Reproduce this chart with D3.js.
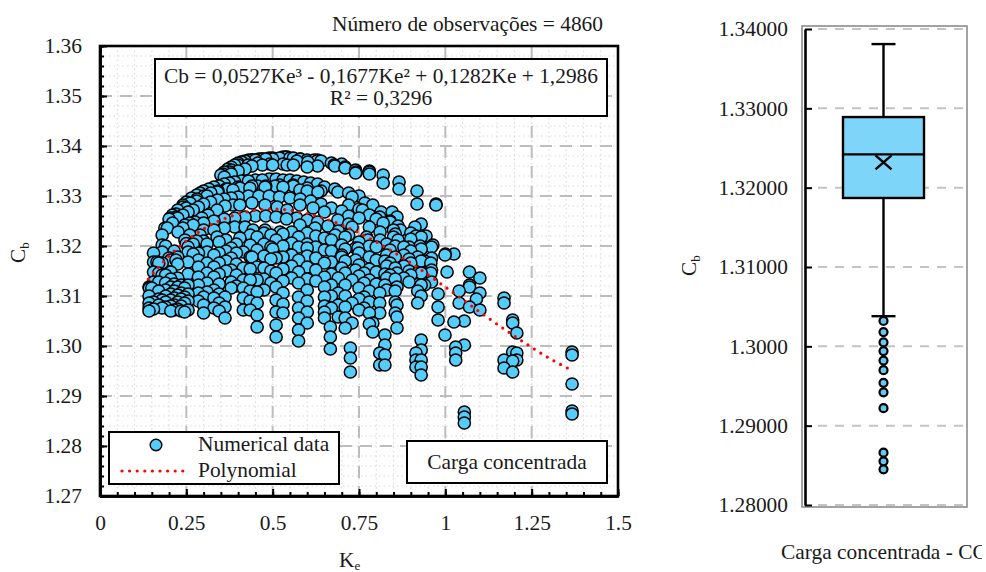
<!DOCTYPE html>
<html><head><meta charset="utf-8">
<style>html,body{margin:0;padding:0;background:#fff;overflow:hidden}svg{display:block}text{font-family:"Liberation Serif",serif;fill:#1a1a1a}</style>
<script src="https://cdn.jsdelivr.net/npm/d3@7"></script></head><body><svg id="c" width="986" height="572"></svg>
<script>
// ---- scatter data: vertical columns
const columnKe=[.142,.155,.18,.19,.205,.215,.235,.245,.285,.3,.33,.362,.38,.415,.455,.51,.575,.65,.667,.69,.725,.73,.765,.79,.81,.825,.86,.915,.93,.92,.958,.979,.964,.999,1.005,1.025,1.03,1.04,1.055,1.07,1.1,1.17,1.195,1.207,1.367,.7,.74,.8,.84,.88,.9,.94];
const columnCb=[
[1.3118,1.31,1.3086,1.3076,1.307],
[1.3186,1.3168,1.3148,1.3128,1.3088,1.3074],
[1.3202,1.3188,1.3166,1.3142,1.3092,1.3076],
[1.32,1.3142,1.3126,1.3112,1.31,1.3088,1.3078],
[1.3172,1.3148,1.3134,1.3118,1.3104,1.3092,1.308,1.307],
[1.319,1.3124,1.311,1.3096,1.3082,1.3072],
[1.3122,1.3106,1.3094,1.308,1.307],
[1.3116,1.3098,1.3086,1.3068],
[1.3186,1.3172,1.3158,1.3138,1.3122,1.3106,1.309],
[1.3098,1.3082,1.3066],
[1.3182,1.3158,1.3138,1.3112,1.3096,1.3076],
[1.3098,1.3078,1.3056],
[1.3196,1.3176,1.3152,1.3128,1.3116],
[1.3188,1.3156,1.3132,1.3116,1.3096,1.3072],
[1.3218,1.3192,1.3158,1.3132,1.3108,1.3086,1.3062,1.3038],
[1.3212,1.3176,1.3146,1.3118,1.3092,1.3068,1.3042,1.3018],
[1.3218,1.3198,1.3172,1.3148,1.3126,1.3098,1.3076,1.3056,1.3032,1.301],
[1.3216,1.3192,1.3166,1.3138,1.3118,1.3098,1.308,1.3068,1.3056],
[1.3038,1.3018,1.2994],
[1.3136,1.3106,1.3082,1.3058],
[1.2996,1.2976,1.2948],
[1.3132,1.3086,1.3046],
[1.3146,1.3126,1.3098,1.3076],
[1.3046,1.3028],
[1.3106,1.3086,1.3066,1.2986,1.2962],
[1.317,1.3144,1.3122,1.3022,1.3002,1.2982,1.2962],
[1.3146,1.3118,1.3082,1.3058,1.3036],
[1.2986,1.2972,1.2958],
[1.3012,1.2992,1.2972,1.2958,1.2942],
[1.3178,1.3146,1.311,1.3086],
[1.3166,1.3146],
[1.3104,1.3078,1.3052],
[1.3202],
[1.3182,1.3022],
[1.3148],
[1.3184,1.3048],
[1.2998,1.2986,1.2972],
[1.311,1.3086],
[1.3002,1.3050,1.2868,1.2858,1.2846],
[1.3148,1.3118,1.3078],
[1.3136,1.3106,1.3072],
[1.3096,1.3086,1.2972,1.2956],
[1.3052,1.3046,1.2988,1.297,1.2948],
[1.3026,1.2986,1.2972],
[1.2988,1.2982,1.2924,1.287,1.2864],
[1.3202,1.3178,1.3156],
[1.3196,1.3172,1.3152],
[1.3198,1.3172,1.3148,1.3124],
[1.3192,1.3166,1.3142],
[1.316,1.3136],
[1.3214,1.319,1.3166,1.3142],
[1.317,1.3122]
];
const extraKe=[.17,.225,.255,.27,.31,.345,.365,.395,.435,.475,.495,.53,.555,.6,.625,.67,.71,.75,.78,.83,.855,.895,.93,.96];
const extraCb=[
[1.3166,1.3146,1.3128,1.311,1.3094,1.3082],
[1.3178,1.3164,1.3136,1.3118,1.3102,1.3088,1.3074],
[1.3188,1.3168,1.3144,1.3122,1.3104,1.309,1.3072],
[1.3204,1.3184],
[1.3204,1.3188,1.3166,1.3146,1.3126,1.3108],
[1.3208,1.3186,1.3166,1.3144,1.3124,1.3104,1.3086,1.307],
[1.3212,1.319,1.317,1.315],
[1.3204,1.3186,1.3164,1.3142,1.312],
[1.3222,1.3202,1.3178,1.3154,1.3132,1.311,1.309,1.3072],
[1.3226,1.3204,1.318,1.3156,1.3134,1.3112],
[1.3222,1.3198,1.3174,1.315,1.3126],
[1.3224,1.32,1.3178,1.3154,1.313,1.3106,1.3084,1.3066],
[1.3228,1.3206,1.3182,1.316,1.3136],
[1.3226,1.3204,1.318,1.3158,1.3134,1.3112,1.309,1.3068,1.3046],
[1.322,1.3198,1.3176,1.3152,1.313],
[1.3212,1.319,1.3168,1.3144,1.3122,1.31,1.3076],
[1.3218,1.3194,1.317,1.3146,1.3122,1.31,1.3078,1.3056,1.3036],
[1.3208,1.3186,1.3162,1.314,1.3116,1.3094,1.3072],
[1.32,1.3178,1.3154,1.3132,1.311,1.3088,1.3066,1.3044],
[1.3204,1.3182,1.316,1.3136,1.3112],
[1.3224,1.32,1.3178,1.3156,1.3134,1.311,1.3088,1.3066],
[1.3198,1.3174,1.315,1.3128],
[1.3218,1.3194,1.317,1.3146,1.3122,1.31],
[1.3198,1.3176,1.3152,1.3128]
];
// ---- scatter data: upper arcs
const arcLowKe=[.246,.29,.339,.405,.443,.478,.521,.579,.623,.681,.747,.776,.811,.863,.915,.944,.927,.88,.88];
const arcLowCb=[1.3212,1.3222,1.3218,1.3216,1.3232,1.3232,1.3228,1.3242,1.3236,1.3222,1.3196,1.3212,1.3212,1.3212,1.322,1.322,1.32,1.3182,1.3198];
const arcMidKe=[.226,.246,.26,.275,.295,.313,.339,.362,.385,.405,.44,.478,.513,.542,.579,.617,.65,.689,.73,.772,.811,.863,.912];
const arcMidCb=[1.3228,1.3242,1.3246,1.3248,1.3256,1.3262,1.3272,1.328,1.3282,1.3282,1.3286,1.3282,1.3278,1.3272,1.3282,1.3276,1.3268,1.3252,1.3238,1.3218,1.3228,1.324,1.3238];
const arcHighKe=[.188,.203,.22,.24,.261,.281,.301,.321,.342,.365,.385,.405,.434,.457,.478,.507,.53,.559,.579,.6,.631,.689,.73,.767,.814,.846];
const arcHighCb=[1.3236,1.3256,1.3264,1.3278,1.3286,1.3294,1.33,1.3306,1.331,1.3314,1.3312,1.3316,1.3316,1.332,1.3318,1.332,1.3318,1.3322,1.3312,1.331,1.3308,1.3308,1.3298,1.3286,1.3268,1.3268];
const arcTopKe=[.356,.38,.376,.41,.4,.44,.429,.47,.457,.5,.492,.54,.542,.58,.57,.63,.602,.628,.678,.71,.742,.78,.82,.82,.866,.866,.918,.918,.973,.973];
const arcTopCb=[1.3344,1.3352,1.3348,1.3368,1.3362,1.3372,1.3362,1.3374,1.3366,1.3374,1.3364,1.3378,1.3362,1.3374,1.337,1.3372,1.3368,1.337,1.3362,1.3356,1.3348,1.3348,1.3342,1.3326,1.3328,1.3314,1.331,1.3284,1.3284,1.3282];
const band1Ke=[.35,.36,.37,.38,.39,.40,.41,.42,.43,.44,.45,.46,.47,.48,.49,.50,.52,.53,.54,.55,.56,.58,.6,.62,.64,.36,.38,.40,.42,.44,.47,.5,.53,.56,.6,.63,.67,.68,.7,.71,.74,.74,.78,.78];
const band1Cb=[1.3342,1.3348,1.3354,1.3358,1.3362,1.3366,1.3368,1.337,1.3372,1.3372,1.3372,1.3374,1.3374,1.3374,1.3376,1.3376,1.3376,1.3378,1.3378,1.3376,1.3376,1.3374,1.3372,1.3372,1.337,1.3338,1.3344,1.335,1.3354,1.336,1.3362,1.3362,1.3364,1.3362,1.3358,1.336,1.3366,1.336,1.3364,1.3358,1.3352,1.3346,1.335,1.3344];
const band2Ke=[.20,.21,.225,.24,.25,.265,.28,.29,.3,.315,.33,.345,.36,.375,.39,.41,.43,.45,.47,.49,.51,.53,.55,.57,.59,.61,.63,.65,.68,.22,.25,.28,.31,.34,.37,.4,.44,.48,.52,.56,.6,.64];
const band2Cb=[1.3254,1.3262,1.3272,1.3282,1.3288,1.3296,1.3302,1.3306,1.331,1.3314,1.3318,1.332,1.3324,1.3326,1.3328,1.333,1.333,1.3332,1.3332,1.3334,1.3334,1.3332,1.3332,1.333,1.3328,1.3326,1.3324,1.3318,1.3314,1.3258,1.3276,1.329,1.33,1.3308,1.3314,1.3318,1.332,1.332,1.3322,1.332,1.3316,1.331];
const band3Ke=[.18,.195,.21,.225,.24,.255,.27,.285,.3,.32,.34,.36,.38,.4,.43,.46,.49,.52,.55,.58,.61,.64,.67,.7,.72,.76,.8,.84,.87,.9];
const band3Cb=[1.3222,1.3236,1.3246,1.3256,1.3262,1.3268,1.3272,1.3278,1.3284,1.3288,1.3292,1.3294,1.3296,1.3298,1.33,1.33,1.33,1.3298,1.3296,1.3294,1.329,1.3284,1.3276,1.327,1.3282,1.3272,1.3254,1.325,1.3232,1.3226];
const band4Ke=[.24,.27,.3,.33,.36,.39,.42,.45,.48,.51,.54,.57,.6,.63,.66,.69,.72,.26,.3,.33,.36,.39,.42,.25,.28,.72,.72,.75,.75,.78,.78,.82,.85,.72,.75,.79,.81,.84,.86];
const band4Cb=[1.3236,1.3242,1.3246,1.325,1.3254,1.3256,1.3258,1.326,1.326,1.3258,1.3254,1.3256,1.3252,1.3248,1.324,1.323,1.3222,1.3222,1.3232,1.3232,1.3236,1.3238,1.3238,1.3205,1.321,1.326,1.3244,1.3274,1.3256,1.3262,1.3238,1.3246,1.3232,1.3306,1.33,1.3282,1.3258,1.3248,1.3258];
const edgeKe=[.143,.15,.165,.2,.22,.255,.3,.44,.5,.6,.7,.85,.93,1.0,1.07,1.09];
const edgeCb=[1.3116,1.3116,1.3168,1.3176,1.3172,1.3198,1.321,1.3178,1.3194,1.3196,1.3182,1.3218,1.3244,1.3184,1.3122,1.3094];
// ---- polynomial
const polyKe=[.14,.2,.3,.4,.5,.6,.7,.8,.9,1,1.1,1.2,1.3,1.367];
const polyCb=[1.3134,1.318,1.3234,1.3264,1.3274,1.3265,1.3242,1.3208,1.3166,1.3118,1.3068,1.302,1.2976,1.2951];
// ---- ticks
const xTicks=[0,.25,.5,.75,1,1.25,1.5];
const xTickLabels=["0","0.25","0.5","0.75","1","1.25","1.5"];
const yTicks=[1.27,1.28,1.29,1.30,1.31,1.32,1.33,1.34,1.35,1.36];
const yTickLabels=["1.27","1.28","1.29","1.30","1.31","1.32","1.33","1.34","1.35","1.36"];
// ---- box plot
const boxTicks=[1.28,1.29,1.30,1.31,1.32,1.33,1.34];
const boxTickLabels=["1.28000","1.29000","1.3000","1.31000","1.32000","1.33000","1.34000"];
const boxWhiskerHigh=1.3381,boxQ3=1.3289,boxMedian=1.3242,boxMean=1.3232,boxQ1=1.3187,boxWhiskerLow=1.3038;
const boxOutliers=[1.3032,1.3018,1.3005,1.2994,1.2982,1.297,1.2954,1.2942,1.2922,1.2866,1.2855,1.2845];

const svg=d3.select("#c");
const x=d3.scaleLinear().domain([0,1.5]).range([100,618]);
const y=d3.scaleLinear().domain([1.27,1.36]).range([496,46]);
const FS=21.4,FILL="#55cdfb";
const g=svg.append("g");
// minor grid
const xMinor=d3.range(0,1.5001,.05),yMinor=d3.range(1.27,1.3601,.002);
g.append("g").selectAll("line").data(xMinor).join("line").attr("x1",d=>x(d)).attr("x2",d=>x(d)).attr("y1",46).attr("y2",496).attr("stroke","#dcdcdc").attr("stroke-width",1.2).attr("stroke-dasharray","1.5 3");
g.append("g").selectAll("line").data(yMinor).join("line").attr("y1",d=>y(d)).attr("y2",d=>y(d)).attr("x1",100).attr("x2",618).attr("stroke","#dcdcdc").attr("stroke-width",1.2).attr("stroke-dasharray","1.5 3");
// major grid
g.append("g").selectAll("line").data(xTicks.slice(1,-1)).join("line").attr("x1",d=>x(d)).attr("x2",d=>x(d)).attr("y1",46).attr("y2",496).attr("stroke","#bdbdbd").attr("stroke-width",2).attr("stroke-dasharray","12 8");
g.append("g").selectAll("line").data(yTicks.slice(1,-1)).join("line").attr("y1",d=>y(d)).attr("y2",d=>y(d)).attr("x1",100).attr("x2",618).attr("stroke","#bdbdbd").attr("stroke-width",2).attr("stroke-dasharray","12 8");
// points: lower values are painted last, as in the reference stacks
const pts=[];
columnKe.forEach((k,i)=>columnCb[i].forEach(c=>pts.push([k,c])));
extraKe.forEach((k,i)=>extraCb[i].forEach(c=>pts.push([k,c])));
edgeKe.forEach((k,i)=>pts.push([k,edgeCb[i]]));
[[arcLowKe,arcLowCb],[arcMidKe,arcMidCb],[arcHighKe,arcHighCb],[arcTopKe,arcTopCb],[band1Ke,band1Cb],[band2Ke,band2Cb],[band3Ke,band3Cb],[band4Ke,band4Cb]].forEach(([a,b])=>a.forEach((k,i)=>pts.push([k,b[i]])));
pts.sort((a,b)=>b[1]-a[1]);
g.append("g").selectAll("circle").data(pts).join("circle").attr("cx",d=>x(d[0])).attr("cy",d=>y(d[1])).attr("r",6.1).attr("fill",FILL).attr("stroke","#000").attr("stroke-width",1.5);
// polynomial
const line=d3.line().x((d,i)=>x(polyKe[i])).y((d,i)=>y(polyCb[i])).curve(d3.curveMonotoneX);
const dotted=s=>s.attr("fill","none").attr("stroke","#f00").attr("stroke-width",3.2).attr("stroke-linecap","round").attr("stroke-dasharray","0 7.6");
g.append("path").attr("d",line(polyKe)).call(dotted);
// axes
const ax=d3.axisBottom(x).tickValues(xTicks).tickFormat((d,i)=>xTickLabels[i]).tickSizeInner(-7).tickSizeOuter(0).tickPadding(19);
const ay=d3.axisLeft(y).tickValues(yTicks).tickFormat((d,i)=>yTickLabels[i]).tickSizeInner(-7).tickSizeOuter(0).tickPadding(18);
const ax2=d3.axisBottom(x).tickValues(xMinor).tickFormat("").tickSizeInner(-4).tickSizeOuter(0);
const ay2=d3.axisLeft(y).tickValues(yMinor).tickFormat("").tickSizeInner(-4).tickSizeOuter(0);
function sty(s){s.selectAll("path").attr("stroke","#000").attr("stroke-width",2.6);s.selectAll("line").attr("stroke","#000").attr("stroke-width",2);s.selectAll("text").attr("font-size",FS).attr("font-family",'"Liberation Serif"').attr("fill","#1a1a1a");}
g.append("g").attr("transform","translate(0,496)").call(ax2).call(sty);
g.append("g").attr("transform","translate(100,0)").call(ay2).call(sty);
g.append("g").attr("transform","translate(0,496)").call(ax).call(sty);
g.append("g").attr("transform","translate(100,0)").call(ay).call(sty);
g.append("rect").attr("x",100).attr("y",46).attr("width",518).attr("height",450).attr("fill","none").attr("stroke","#000").attr("stroke-width",2.6);
// boxes and labels
const bx=(a,b,w,h)=>g.append("rect").attr("x",a).attr("y",b).attr("width",w).attr("height",h).attr("fill","#fff").attr("stroke","#000").attr("stroke-width",2);
const T=(par,a,b,t,o={})=>par.append("text").attr("x",a).attr("y",b).attr("font-size",o.fs||FS).attr("text-anchor",o.anchor||"start").text(t);
T(svg,603,31,"Número de observações = 4860",{anchor:"end"});
bx(155,59,452,57);
const eq=g.append("text").attr("x",381).attr("y",83).attr("text-anchor","middle").attr("font-size",FS);
eq.text("Cb = 0,0527Ke³ - 0,1677Ke² + 0,1282Ke + 1,2986");
T(g,381,105,"R² = 0,3296",{anchor:"middle"});
bx(109,432,230,52);
g.append("circle").attr("cx",156).attr("cy",445).attr("r",5.8).attr("fill",FILL).attr("stroke","#000").attr("stroke-width",1.4);
T(g,198,451,"Numerical data");
T(g,198,477,"Polynomial");
g.append("line").attr("x1",122).attr("x2",190).attr("y1",471).attr("y2",471).call(dotted);
bx(407,441,200,42);
T(g,507,469,"Carga concentrada",{anchor:"middle"});
const xl=T(svg,339,567,"K");xl.append("tspan").attr("font-size",13).attr("dy",3).text("e");
const yl=svg.append("text").attr("transform","translate(25,263) rotate(-90)").attr("font-size",FS).text("C");yl.append("tspan").attr("font-size",13).attr("dy",4).text("b");
// ---- box plot panel
const yb=d3.scaleLinear().domain([1.28,1.34]).range([505,29]);
const p=svg.append("g");
p.append("rect").attr("x",802).attr("y",26).attr("width",165).attr("height",481).attr("fill","#fff").attr("stroke","#8c8c8c").attr("stroke-width",1.6);
p.append("g").selectAll("line").data(boxTicks).join("line").attr("x1",818).attr("x2",966).attr("y1",d=>yb(d)).attr("y2",d=>yb(d)).attr("stroke","#c4c4c4").attr("stroke-width",2).attr("stroke-dasharray","9 8");
const ab=d3.axisLeft(yb).tickValues(boxTicks).tickFormat((d,i)=>boxTickLabels[i]).tickSizeInner(-7).tickSizeOuter(0).tickPadding(17);
p.append("g").attr("transform","translate(805,0)").call(ab).call(sty);
const cx=883.5;
const L=(a,b,c,d,w)=>p.append("line").attr("x1",a).attr("y1",b).attr("x2",c).attr("y2",d).attr("stroke","#000").attr("stroke-width",w||2.4);
L(cx,yb(boxWhiskerHigh),cx,yb(boxWhiskerLow));
L(cx-12,yb(boxWhiskerHigh),cx+12,yb(boxWhiskerHigh));
L(cx-12,yb(boxWhiskerLow),cx+12,yb(boxWhiskerLow));
p.append("rect").attr("x",843).attr("y",yb(boxQ3)).attr("width",81).attr("height",yb(boxQ1)-yb(boxQ3)).attr("fill","#7dd6f9").attr("stroke","#000").attr("stroke-width",2.4);
L(843,yb(boxMedian),924,yb(boxMedian));
const m=yb(boxMean);L(cx-8,m-7,cx+8,m+7);L(cx-8,m+7,cx+8,m-7);
p.append("g").selectAll("circle").data(boxOutliers).join("circle").attr("cx",cx).attr("cy",d=>yb(d)).attr("r",4).attr("fill","#66c8ee").attr("stroke","#000").attr("stroke-width",2.2);
svg.append("defs").append("clipPath").attr("id","cl").append("rect").attr("x",700).attr("y",530).attr("width",282).attr("height",42);
svg.append("g").attr("clip-path","url(#cl)").append("text").attr("x",781).attr("y",559).attr("font-size",FS).text("Carga concentrada - CC");
const yl2=svg.append("text").attr("transform","translate(696,276) rotate(-90)").attr("font-size",FS).text("C");yl2.append("tspan").attr("font-size",13).attr("dy",4).text("b");
</script></body></html>
